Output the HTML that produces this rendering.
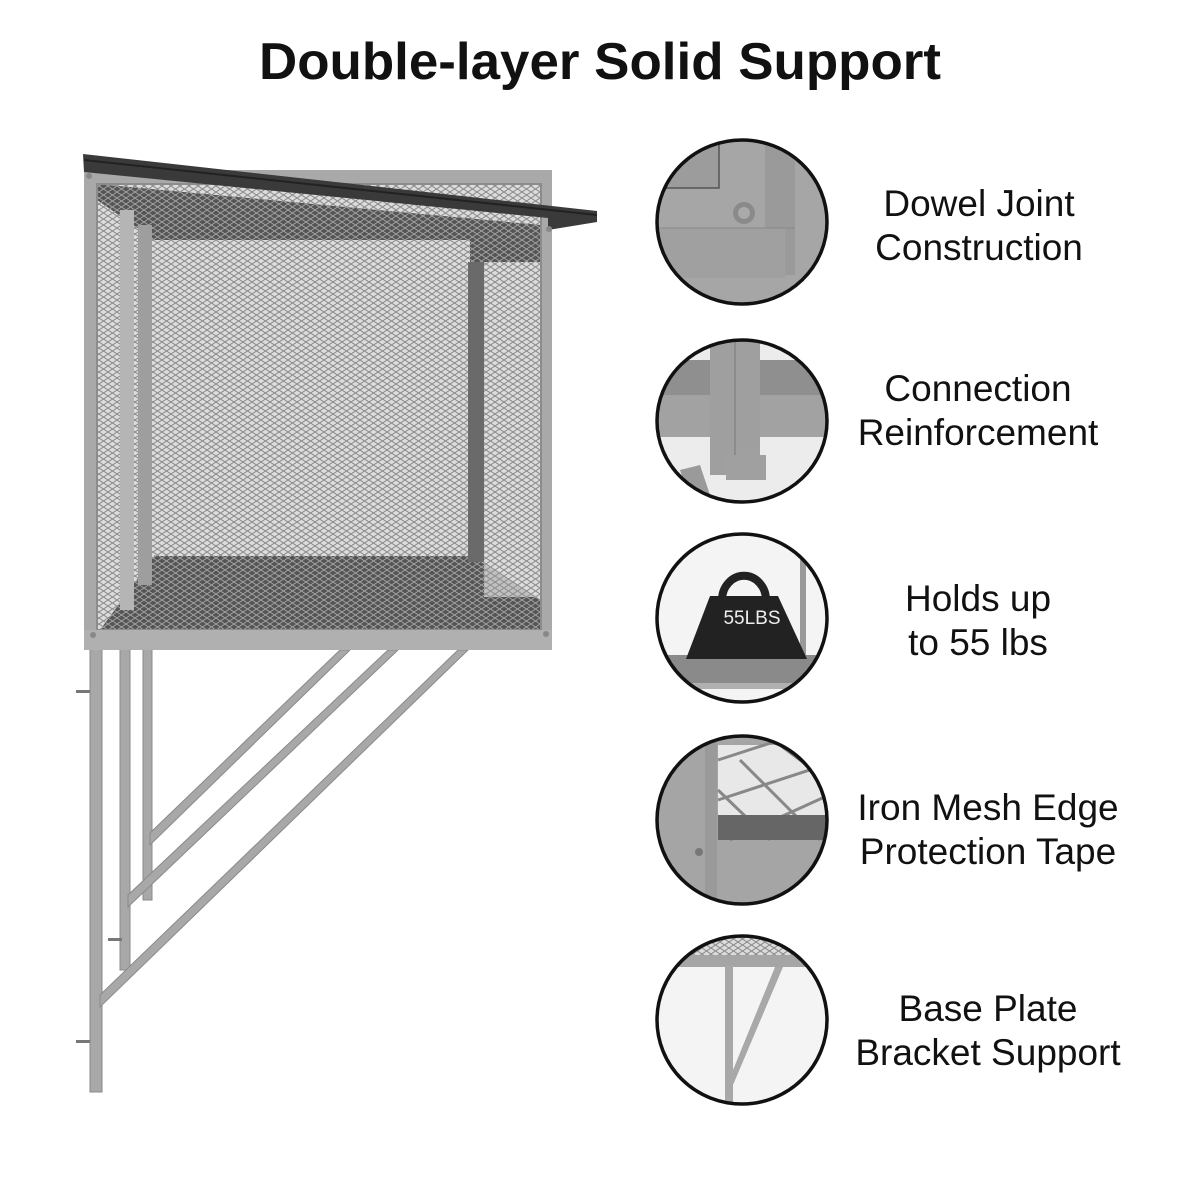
<!DOCTYPE html>
<html><head><meta charset="utf-8"><style>
html,body{margin:0;padding:0;background:#fff;width:1200px;height:1200px;overflow:hidden}
svg{display:block}
text{font-family:"Liberation Sans",Arial,sans-serif}
</style></head><body>
<svg width="1200" height="1200" viewBox="0 0 1200 1200" xmlns="http://www.w3.org/2000/svg">
<defs>
<pattern id="mesh" width="9" height="6" patternUnits="userSpaceOnUse">
<rect width="9" height="6" fill="#dcdcdc"/>
<path d="M0 0L9 6M9 0L0 6" stroke="#8a8a8a" stroke-width="1"/>
</pattern>
<pattern id="meshd" width="9" height="6" patternUnits="userSpaceOnUse">
<rect width="9" height="6" fill="#555"/>
<path d="M0 0L9 6M9 0L0 6" stroke="#a8a8a8" stroke-width="0.9"/>
</pattern>
<clipPath id="c1"><ellipse cx="742" cy="222" rx="85" ry="82"/></clipPath>
<clipPath id="c2"><ellipse cx="742" cy="421" rx="85" ry="81"/></clipPath>
<clipPath id="c3"><ellipse cx="742" cy="618" rx="85" ry="84"/></clipPath>
<clipPath id="c4"><ellipse cx="742" cy="820" rx="85" ry="84"/></clipPath>
<clipPath id="c5"><ellipse cx="742" cy="1020" rx="85" ry="84"/></clipPath>
</defs>
<text x="600" y="79" font-size="52" font-weight="bold" text-anchor="middle" fill="#111" textLength="682" lengthAdjust="spacingAndGlyphs">Double-layer Solid Support</text>

<!-- legs -->
<g fill="#a8a8a8" stroke="#8a8a8a" stroke-width="1">
<rect x="90" y="648" width="12" height="444"/>
<rect x="120" y="648" width="10" height="322"/>
<rect x="143" y="648" width="9" height="252"/>
<polygon points="100,995 458,650 468,650 100,1007"/>
<polygon points="128,895 388,650 398,650 128,907"/>
<polygon points="150,833 340,650 350,650 150,845"/>
</g>
<g fill="#777"><rect x="76" y="690" width="14" height="3"/><rect x="108" y="938" width="14" height="3"/><rect x="76" y="1040" width="14" height="3"/></g>

<!-- cage -->
<rect x="84" y="170" width="468" height="480" fill="#a9a9a9"/>
<rect x="97" y="184" width="444" height="446" fill="url(#mesh)"/>
<polygon points="97,184 541,225 541,262 470,262 155,240 97,200" fill="url(#meshd)"/>
<polygon points="100,630 155,555 470,555 541,600 541,630" fill="url(#meshd)"/>
<rect x="155" y="240" width="315" height="316" fill="url(#mesh)"/>
<rect x="468" y="262" width="16" height="300" fill="#6a6a6a"/>
<rect x="484" y="262" width="50" height="335" fill="url(#mesh)" opacity="0.8"/>
<rect x="120" y="210" width="14" height="400" fill="#b5b5b5"/>
<rect x="138" y="225" width="14" height="360" fill="#9e9e9e"/>
<rect x="97" y="184" width="444" height="446" fill="none" stroke="#8c8c8c" stroke-width="2"/>
<rect x="84" y="630" width="468" height="20" fill="#b0b0b0"/>
<polygon points="83,154 597,211 597,222 548,230 548,218 84,172" fill="#3a3a3a"/>
<line x1="84" y1="160" x2="597" y2="215" stroke="#222" stroke-width="2"/>
<g fill="#888"><circle cx="89" cy="176" r="3"/><circle cx="549" cy="229" r="3"/><circle cx="93" cy="635" r="3"/><circle cx="546" cy="634" r="3"/></g>

<!-- circle 1 -->
<g clip-path="url(#c1)">
<rect x="650" y="130" width="190" height="190" fill="#a6a6a6"/>
<rect x="650" y="130" width="69" height="58" fill="#9c9c9c" stroke="#555" stroke-width="1.5"/>
<rect x="765" y="130" width="30" height="145" fill="#9a9a9a"/>
<rect x="650" y="228" width="135" height="50" fill="#a0a0a0"/>
<line x1="650" y1="228" x2="795" y2="228" stroke="#888"/>
<circle cx="744" cy="213" r="11" fill="#8a8a8a"/><circle cx="744" cy="213" r="6" fill="#aaa"/>
</g>
<ellipse cx="742" cy="222" rx="85" ry="82" fill="none" stroke="#111" stroke-width="3.5"/>

<!-- circle 2 -->
<g clip-path="url(#c2)">
<rect x="650" y="335" width="190" height="180" fill="#ececec"/>
<rect x="650" y="360" width="190" height="60" fill="#8f8f8f"/>
<rect x="650" y="395" width="190" height="42" fill="#a2a2a2"/>
<rect x="710" y="335" width="50" height="140" fill="#9f9f9f"/>
<line x1="735" y1="335" x2="735" y2="460" stroke="#777"/>
<rect x="726" y="455" width="40" height="25" fill="#a0a0a0"/>
<polygon points="680,470 700,465 715,510 695,515" fill="#9a9a9a"/>
</g>
<ellipse cx="742" cy="421" rx="85" ry="81" fill="none" stroke="#111" stroke-width="3.5"/>

<!-- circle 3 -->
<g clip-path="url(#c3)">
<rect x="650" y="530" width="190" height="180" fill="#f4f4f4"/>
<rect x="800" y="530" width="6" height="130" fill="#999"/>
<rect x="650" y="655" width="190" height="30" fill="#8a8a8a"/>
<rect x="650" y="683" width="190" height="6" fill="#b0b0b0"/>
<path d="M722 600 A20 22 0 0 1 766 600" fill="none" stroke="#222" stroke-width="8"/>
<polygon points="710,596 778,596 807,659 686,659" fill="#222"/>
<text x="752" y="624" font-size="19" fill="#eee" text-anchor="middle">55LBS</text>
</g>
<ellipse cx="742" cy="618" rx="85" ry="84" fill="none" stroke="#111" stroke-width="3.5"/>

<!-- circle 4 -->
<g clip-path="url(#c4)">
<rect x="650" y="730" width="190" height="180" fill="#a5a5a5"/>
<rect x="718" y="745" width="122" height="95" fill="#e8e8e8"/>
<path d="M718 760L780 740M718 800L840 760M730 840L840 790M740 760L820 840M718 790L770 840M780 745L840 790" stroke="#888" stroke-width="3" fill="none"/>
<rect x="718" y="815" width="122" height="25" fill="#666"/>
<rect x="705" y="735" width="12" height="170" fill="#9a9a9a"/>
<circle cx="699" cy="852" r="4" fill="#777"/>
</g>
<ellipse cx="742" cy="820" rx="85" ry="84" fill="none" stroke="#111" stroke-width="3.5"/>

<!-- circle 5 -->
<g clip-path="url(#c5)">
<rect x="650" y="930" width="190" height="180" fill="#f4f4f4"/>
<rect x="650" y="935" width="190" height="20" fill="url(#mesh)"/>
<rect x="650" y="955" width="190" height="12" fill="#a5a5a5"/>
<rect x="725" y="965" width="8" height="140" fill="#a8a8a8"/>
<polygon points="733,1070 775,967 783,967 733,1085" fill="#a8a8a8"/>
</g>
<ellipse cx="742" cy="1020" rx="85" ry="84" fill="none" stroke="#111" stroke-width="3.5"/>

<g font-size="37" fill="#111" text-anchor="middle">
<text x="979" y="216">Dowel Joint</text><text x="979" y="260">Construction</text>
<text x="978" y="401">Connection</text><text x="978" y="445">Reinforcement</text>
<text x="978" y="611">Holds up</text><text x="978" y="655">to 55 lbs</text>
<text x="988" y="820">Iron Mesh Edge</text><text x="988" y="864">Protection Tape</text>
<text x="988" y="1021">Base Plate</text><text x="988" y="1065">Bracket Support</text>
</g>
</svg>
</body></html>
